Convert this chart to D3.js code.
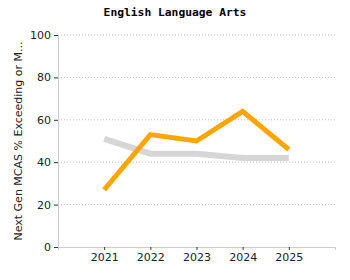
<!DOCTYPE html>
<html>
<head>
<meta charset="utf-8">
<script src="https://cdn.jsdelivr.net/npm/d3@7"></script>
<style>
  body { margin: 0; background: #fff; }
  svg text { font-family: Verdana, "DejaVu Sans", sans-serif; }
</style>
</head>
<body>
<div id="chart"></div>
<script>
// Data
const years = [2021, 2022, 2023, 2024, 2025];
const schoolValues = [27, 53, 50, 64, 46];
const stateValues = [51, 44, 44, 42, 42];
const yTicks = [0, 20, 40, 60, 80, 100];

const W = 350, H = 280;
const margin = { top: 35, right: 15, bottom: 33, left: 58 };
const width = W - margin.left - margin.right,
      height = H - margin.top - margin.bottom;

const svg = d3.select("#chart")
    .append("svg")
    .attr("width", W)
    .attr("height", H);

// Title (monospace bold like the original)
svg.append("text")
    .attr("x", 175)
    .attr("y", 16)
    .attr("text-anchor", "middle")
    .style("font-family", "'DejaVu Sans Mono', 'Liberation Mono', monospace")
    .style("font-size", "11.3px")
    .style("font-weight", "bold")
    .text("English Language Arts");

const g = svg.append("g")
    .attr("transform", `translate(${margin.left},${margin.top})`);

const x = d3.scaleLinear()
    .domain([2020, 2026])
    .range([0, width]);

const y = d3.scaleLinear()
    .domain([0, 100])
    .range([height, 0]);

// Grid lines
g.selectAll(".grid")
    .data(yTicks.filter(d => d > 0))
    .enter()
    .append("line")
    .attr("x1", 0)
    .attr("x2", width)
    .attr("y1", d => y(d))
    .attr("y2", d => y(d))
    .attr("stroke", "#bbb")
    .attr("stroke-dasharray", "1,2");

// Y axis
const yAxis = g.append("g")
    .call(d3.axisLeft(y).tickValues(yTicks).tickSize(4).tickSizeOuter(0));
yAxis.select(".domain").attr("stroke", "#ccc");
yAxis.selectAll(".tick line").attr("stroke", "#333");
yAxis.selectAll("text").style("font-size", "11px").attr("fill", "#222");

// X axis
const xAxis = g.append("g")
    .attr("transform", `translate(0,${height})`)
    .call(d3.axisBottom(x).tickValues(years).tickFormat(d3.format("d")).tickSize(3).tickSizeOuter(3));
xAxis.select(".domain").attr("stroke", "#ccc");
xAxis.selectAll(".tick line").attr("stroke", "#333");
xAxis.selectAll("text").style("font-size", "11px").attr("fill", "#222");

// Y label
svg.append("text")
    .attr("transform", "rotate(-90)")
    .attr("x", -(margin.top + height / 2))
    .attr("y", 22)
    .attr("text-anchor", "middle")
    .style("font-size", "11px")
    .attr("fill", "#222")
    .text("Next Gen MCAS % Exceeding or M...");

const line = d3.line()
    .x((d, i) => x(years[i]))
    .y(d => y(d));

g.append("path")
    .datum(stateValues)
    .attr("d", line)
    .attr("fill", "none")
    .attr("stroke", "#d6d6d6")
    .attr("stroke-width", 6);

g.append("path")
    .datum(schoolValues)
    .attr("d", line)
    .attr("fill", "none")
    .attr("stroke", "#ffa500")
    .attr("stroke-width", 5);
</script>
</body>
</html>
